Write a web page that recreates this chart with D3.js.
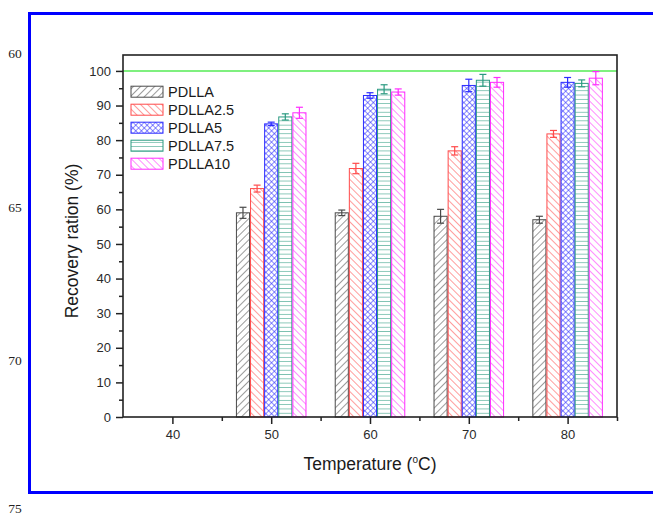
<!DOCTYPE html>
<html>
<head>
<meta charset="utf-8">
<script src="https://cdn.jsdelivr.net/npm/d3@7"></script>
<style>
  body { margin: 0; background: #fff; }
  text { font-family: "Liberation Sans", Arial, sans-serif; }
</style>
</head>
<body>
<div id="chart"></div>
<script>
// Temperatures (x categories) and series
const temps = [50, 60, 70, 80];
const seriesNames = ["PDLLA", "PDLLA2.5", "PDLLA5", "PDLLA7.5", "PDLLA10"];

// Recovery ratio (%), with error bar half-widths
const pdlla      = [59.0, 59.0, 58.0, 57.0];
const pdllaErr   = [1.6, 0.8, 2.0, 1.0];
const pdlla25    = [66.0, 71.8, 76.9, 81.8];
const pdlla25Err = [1.0, 1.5, 1.2, 1.0];
const pdlla5     = [84.7, 92.9, 95.8, 96.7];
const pdlla5Err  = [0.5, 0.8, 1.8, 1.4];
const pdlla75    = [86.7, 94.7, 97.3, 96.4];
const pdlla75Err = [0.9, 1.3, 1.7, 1.0];
const pdlla10    = [87.9, 93.9, 96.7, 97.9];
const pdlla10Err = [1.6, 0.9, 1.4, 1.9];

// tick labels
const xTicks = [40, 50, 60, 70, 80];
const yTicks = [0, 10, 20, 30, 40, 50, 60, 70, 80, 90, 100];
// manuscript line numbers in the margin
const lineNumbers = ["60", "65", "70", "75"];

const values = [pdlla, pdlla25, pdlla5, pdlla75, pdlla10];
const errors = [pdllaErr, pdlla25Err, pdlla5Err, pdlla75Err, pdlla10Err];

const W = 653, H = 516;
const svg = d3.select("#chart").append("svg")
    .attr("width", W).attr("height", H);

svg.append("rect").attr("width", W).attr("height", H).attr("fill", "#fff");

// Blue page frame (right side runs off the page)
svg.append("path")
    .attr("d", "M660,13.5 H29.5 V492.5 H660")
    .attr("fill", "none")
    .attr("stroke", "#0000ff")
    .attr("stroke-width", 3);

// Line numbers on the left margin
const lineY = [53, 207, 360, 508];
svg.selectAll(".lineno")
    .data(lineNumbers)
    .enter().append("text")
    .attr("x", 15).attr("y", (d, i) => lineY[i])
    .attr("text-anchor", "middle")
    .attr("dominant-baseline", "central")
    .style("font-family", "'Liberation Serif', 'Times New Roman', serif")
    .style("font-size", "13.5px")
    .attr("fill", "#222")
    .text(d => d);

// Scales
const x = d3.scaleLinear().domain([35, 85]).range([123, 617]);
const y = d3.scaleLinear().domain([0, 104.6]).range([417, 55]);

// group of 5 bars spans ~7.14 temperature units
const groupW = x(57.14) - x(50);
const inner = d3.scaleBand().domain(seriesNames).range([-groupW / 2, groupW / 2]).paddingInner(0);

// Patterns
const colors = ["#4a4a4a", "#ff4b4b", "#2b2bff", "#2a9a80", "#ff2cff"];
const defs = svg.append("defs");

function linePattern(id, color, size, angle, sw) {
    const p = defs.append("pattern")
        .attr("id", id)
        .attr("patternUnits", "userSpaceOnUse")
        .attr("width", size).attr("height", size)
        .attr("patternTransform", "rotate(" + angle + ")");
    p.append("rect").attr("width", size).attr("height", size).attr("fill", "#fff");
    p.append("line")
        .attr("x1", 0).attr("y1", 0).attr("x2", 0).attr("y2", size)
        .attr("stroke", color).attr("stroke-width", sw);
}
linePattern("pat0", colors[0], 5, 45, 1.1);
linePattern("pat1", colors[1], 5, -45, 1.1);
linePattern("pat3", colors[3], 4.3, 90, 1.1);
linePattern("pat4", colors[4], 5, -45, 1.1);

// cross hatch for PDLLA5
const cp = defs.append("pattern")
    .attr("id", "pat2")
    .attr("patternUnits", "userSpaceOnUse")
    .attr("width", 4).attr("height", 4)
    .attr("patternTransform", "rotate(45)");
cp.append("rect").attr("width", 4).attr("height", 4).attr("fill", "#fff");
cp.append("line").attr("x1", 0).attr("y1", 0).attr("x2", 0).attr("y2", 4)
    .attr("stroke", colors[2]).attr("stroke-width", 1.1);
cp.append("line").attr("x1", 0).attr("y1", 0).attr("x2", 4).attr("y2", 0)
    .attr("stroke", colors[2]).attr("stroke-width", 1.1);

// 100% reference line
svg.append("line")
    .attr("x1", x(35)).attr("x2", x(85))
    .attr("y1", y(100)).attr("y2", y(100))
    .attr("stroke", "#7ff07f")
    .attr("stroke-width", 2);

// Bars
const barData = [];
seriesNames.forEach((s, si) => {
    temps.forEach((t, ti) => {
        barData.push({ s: s, si: si, t: t, v: values[si][ti], e: errors[si][ti] });
    });
});

const bars = svg.append("g");
bars.selectAll("rect")
    .data(barData)
    .enter().append("rect")
    .attr("x", d => x(d.t) + inner(d.s) + 0.5)
    .attr("y", d => y(d.v))
    .attr("width", inner.bandwidth() - 1)
    .attr("height", d => y(0) - y(d.v))
    .attr("fill", d => "url(#pat" + d.si + ")")
    .attr("stroke", d => colors[d.si])
    .attr("stroke-width", 1);

// Error bars
const capW = 3.5;
const eb = svg.append("g");
barData.forEach(d => {
    const cx = x(d.t) + inner(d.s) + inner.bandwidth() / 2;
    const g = eb.append("g").attr("stroke", colors[d.si]).attr("stroke-width", 1.2);
    g.append("line").attr("x1", cx).attr("x2", cx).attr("y1", y(d.v + d.e)).attr("y2", y(d.v - d.e));
    g.append("line").attr("x1", cx - capW).attr("x2", cx + capW).attr("y1", y(d.v + d.e)).attr("y2", y(d.v + d.e));
    g.append("line").attr("x1", cx - capW).attr("x2", cx + capW).attr("y1", y(d.v - d.e)).attr("y2", y(d.v - d.e));
});

// Axes
svg.append("g")
    .attr("transform", "translate(" + x(35) + ",0)")
    .call(d3.axisLeft(y).tickValues(yTicks).tickSize(7).tickPadding(5));
svg.append("g")
    .attr("transform", "translate(" + x(35) + ",0)")
    .call(d3.axisLeft(y).tickValues(d3.range(5, 100, 10)).tickSize(4).tickFormat(""));

svg.append("g")
    .attr("transform", "translate(0," + y(0) + ")")
    .call(d3.axisBottom(x).tickValues(xTicks).tickSize(7).tickPadding(6));
svg.append("g")
    .attr("transform", "translate(0," + y(0) + ")")
    .call(d3.axisBottom(x).tickValues([45, 55, 65, 75, 85]).tickSize(4).tickFormat(""));

svg.selectAll(".domain").remove();
svg.selectAll(".tick line").attr("stroke", "#222").attr("stroke-width", 1.5);
svg.selectAll(".tick text")
    .style("font-family", "'Liberation Sans', Arial, sans-serif")
    .style("font-size", "13px")
    .attr("fill", "#2a2a2a");

// Plot frame
svg.append("rect")
    .attr("x", x(35)).attr("y", y(104.6))
    .attr("width", x(85) - x(35))
    .attr("height", y(0) - y(104.6))
    .attr("fill", "none")
    .attr("stroke", "#222")
    .attr("stroke-width", 1.6);

// Axis titles
const xt = svg.append("text")
    .attr("x", (x(35) + x(85)) / 2)
    .attr("y", 470)
    .attr("text-anchor", "middle")
    .style("font-size", "17.5px")
    .attr("fill", "#1a1a1a");
xt.append("tspan").text("Temperature (");
xt.append("tspan").attr("dy", -7).style("font-size", "10px").text("o");
xt.append("tspan").attr("dy", 7).text("C)");

svg.append("text")
    .attr("transform", "translate(78," + 241 + ") rotate(-90)")
    .attr("text-anchor", "middle")
    .style("font-size", "17.5px")
    .attr("fill", "#1a1a1a")
    .text("Recovery ration (%)");

// Legend
const legend = svg.append("g");
seriesNames.forEach((s, i) => {
    const cy = 91.7 + i * 18;
    legend.append("rect")
        .attr("x", 131).attr("y", cy - 5.5)
        .attr("width", 32).attr("height", 11)
        .attr("fill", "url(#pat" + i + ")")
        .attr("stroke", colors[i])
        .attr("stroke-width", 1);
    legend.append("text")
        .attr("x", 168).attr("y", cy)
        .attr("dominant-baseline", "central")
        .style("font-size", "14.5px")
        .attr("fill", "#1a1a1a")
        .text(s);
});
</script>
</body>
</html>
